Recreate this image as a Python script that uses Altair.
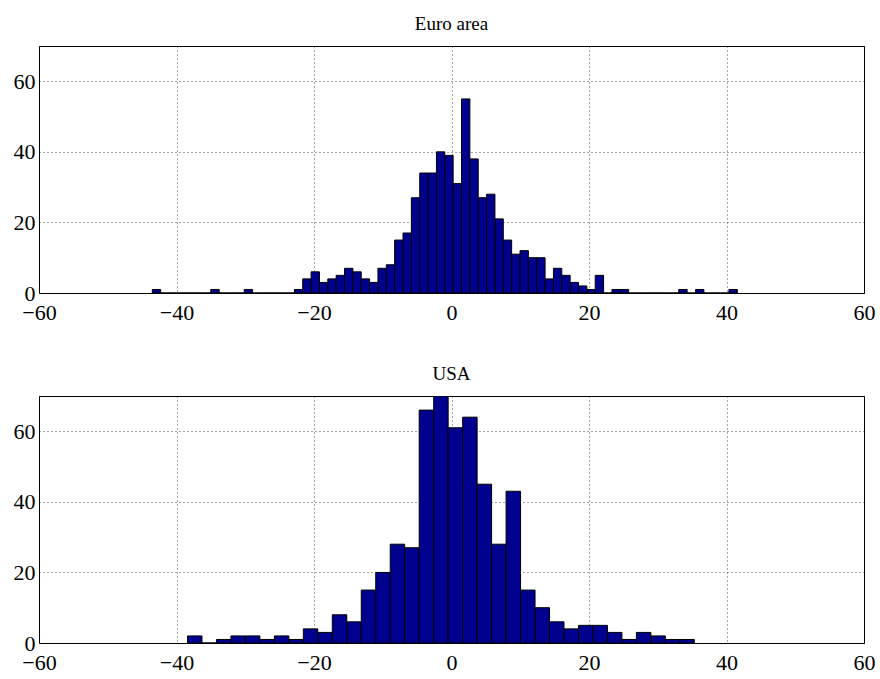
import altair as alt
import pandas as pd

# ---- data ----
euro_counts = [1, 0, 0, 0, 0, 0, 0, 1, 0, 0,
               0, 1, 0, 0, 0, 0, 0, 1, 4, 6,
               3, 4, 5, 7, 6, 4, 3, 7, 8, 15,
               17, 27, 34, 34, 40, 39, 31, 55, 38, 27,
               28, 21, 15, 11, 12, 10, 10, 4, 7, 5,
               3, 2, 1, 5, 0, 1, 1, 0, 0, 0,
               0, 0, 0, 1, 0, 1, 0, 0, 0, 1]
euro_range = [-43.52, 41.57]

usa_counts = [2, 0, 1, 2, 2, 1, 2, 1, 4, 3,
              8, 6, 15, 20, 28, 27, 66, 70, 61, 64,
              45, 28, 43, 15, 10, 6, 4, 5, 5, 3,
              1, 3, 2, 1, 1]
usa_range = [-38.4, 35.32]

titles = ["Euro area", "USA"]
x_ticks = [-60, -40, -20, 0, 20, 40, 60]
y_ticks = [0, 20, 40, 60]
x_domain = [-60, 60]
y_domain = [0, 70]

FONT = "Liberation Serif"


def hist_frame(counts, rng):
    n = len(counts)
    w = (rng[1] - rng[0]) / n
    return pd.DataFrame({
        "x0": [rng[0] + i * w for i in range(n)],
        "x1": [rng[0] + (i + 1) * w for i in range(n)],
        "count": counts,
    })


def panel(title, counts, rng):
    df = hist_frame(counts, rng)
    return alt.Chart(df, title=alt.Title(title, offset=12)).mark_rect(
        fill="#00008F", stroke="black", strokeWidth=1, clip=True
    ).encode(
        x=alt.X("x0:Q", scale=alt.Scale(domain=x_domain, nice=False, zero=False),
                axis=alt.Axis(values=x_ticks, title=None, grid=True, ticks=False,
                              labelFlush=False, labelPadding=9,
                              minExtent=38, maxExtent=38)),
        x2="x1:Q",
        y=alt.Y("count:Q", scale=alt.Scale(domain=y_domain, nice=False),
                axis=alt.Axis(values=y_ticks, title=None, grid=True, ticks=False,
                              labelFlush=False, labelPadding=4,
                              minExtent=33, maxExtent=33)),
        y2=alt.datum(0),
    ).properties(width=825, height=247)


chart = alt.vconcat(
    panel(titles[0], euro_counts, euro_range),
    panel(titles[1], usa_counts, usa_range),
    spacing=32,
).properties(
    padding={"left": 5, "top": 14, "right": 2, "bottom": 0},
    background="white",
).configure_view(
    stroke="black", strokeWidth=1
).configure_title(
    font=FONT, fontSize=19, fontWeight="normal", color="black"
).configure_axis(
    labelFont=FONT, labelFontSize=22, labelColor="black",
    domain=False, gridColor="black", gridOpacity=0.7, gridDash=[1, 3],
    gridWidth=1
)

chart.save("out.html", embed_options={"renderer": "svg", "actions": False})
